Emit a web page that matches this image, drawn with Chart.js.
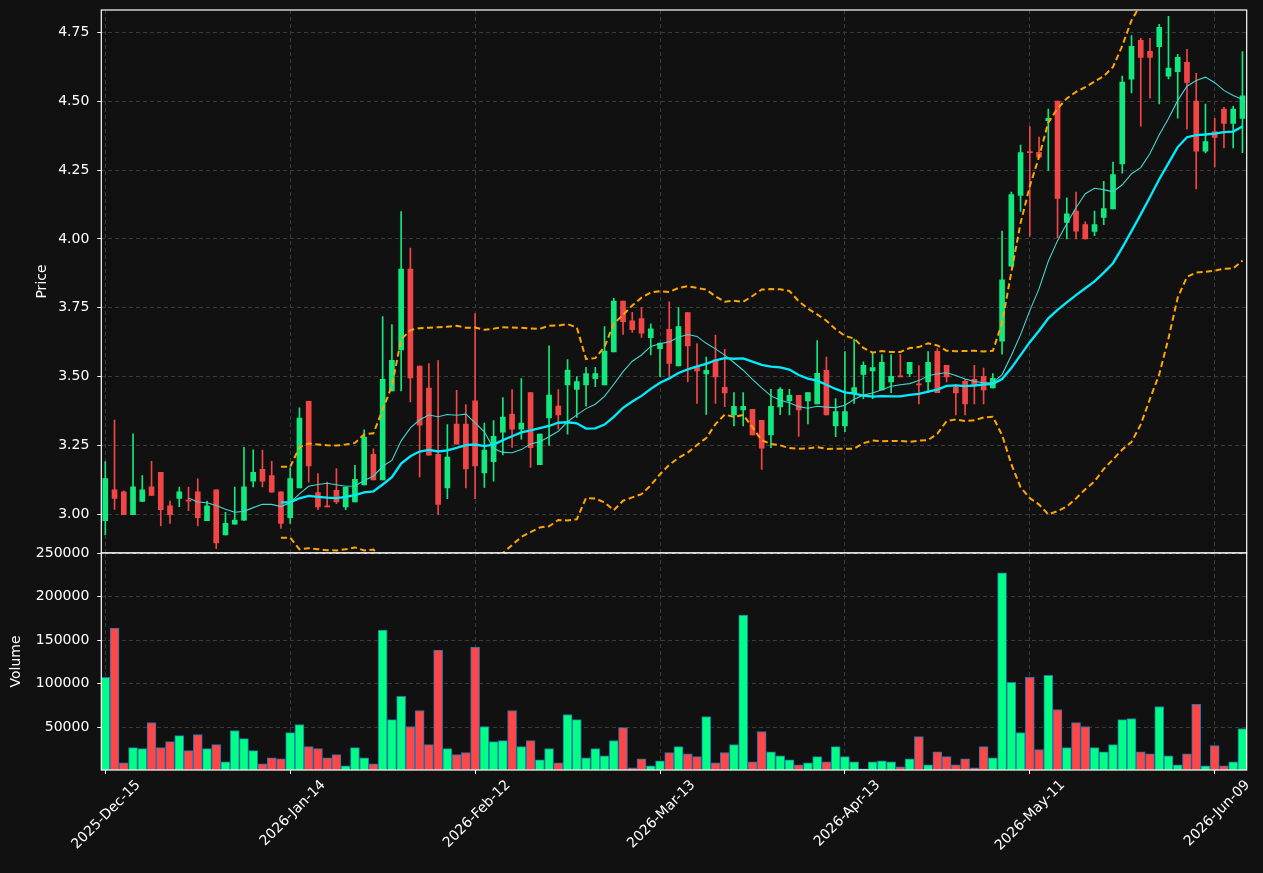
<!DOCTYPE html>
<html>
<head>
<meta charset="utf-8">
<script src="https://cdn.jsdelivr.net/npm/chart.js@4.4.1/dist/chart.umd.min.js"></script>
<style>
  html, body { margin: 0; padding: 0; background: #111111; }
  #wrap { position: relative; width: 1263px; height: 873px; overflow: hidden; }
  #priceChart { position: absolute; left: 0; top: 0; }
  #volumeChart { position: absolute; left: 0; top: 540px; }
</style>
</head>
<body>
<div id="wrap">
  <canvas id="priceChart" width="1263" height="560"></canvas>
  <canvas id="volumeChart" width="1263" height="333"></canvas>
</div>
<script>
// ---- data (one entry per trading day) ----
const opens = [2.977,3.089,3.082,2.999,3.047,3.100,3.152,3.031,3.058,3.050,
  3.082,2.977,3.089,2.925,2.964,2.979,3.120,3.163,3.141,3.082,
  2.988,3.096,3.410,3.079,3.031,3.087,3.027,3.045,3.107,3.218,
  3.125,3.448,3.597,3.890,3.538,3.458,3.218,3.096,3.328,3.328,
  3.412,3.150,3.191,3.298,3.364,3.309,3.442,3.180,3.350,3.393,
  3.470,3.453,3.470,3.492,3.470,3.590,3.774,3.702,3.711,3.641,
  3.601,3.672,3.539,3.732,3.536,3.510,3.561,3.461,3.361,3.379,
  3.381,3.341,3.288,3.390,3.412,3.432,3.412,3.401,3.523,3.321,
  3.321,3.441,3.508,3.521,3.452,3.481,3.501,3.511,3.472,3.481,
  3.592,3.541,3.461,3.483,3.490,3.501,3.459,3.629,3.901,4.158,
  4.316,4.314,4.429,4.500,4.060,4.101,4.052,4.027,4.078,4.109,
  4.272,4.580,4.721,4.681,4.698,4.591,4.607,4.641,4.500,4.318,
  4.390,4.471,4.419,4.437];
const highs = [3.191,3.342,3.085,3.292,3.141,3.192,3.152,3.048,3.099,3.099,
  3.129,3.048,3.089,3.007,3.099,3.243,3.234,3.233,3.192,3.082,
  3.169,3.387,3.410,3.148,3.117,3.166,3.098,3.178,3.307,3.238,
  3.718,3.689,4.099,3.967,3.538,3.547,3.558,3.326,3.450,3.398,
  3.729,3.331,3.340,3.424,3.453,3.493,3.442,3.291,3.612,3.453,
  3.562,3.500,3.534,3.534,3.682,3.784,3.774,3.733,3.751,3.692,
  3.622,3.771,3.751,3.732,3.620,3.571,3.651,3.599,3.442,3.442,
  3.381,3.341,3.454,3.460,3.454,3.432,3.442,3.631,3.571,3.420,
  3.591,3.636,3.554,3.587,3.580,3.580,3.580,3.552,3.540,3.591,
  3.602,3.541,3.471,3.490,3.541,3.531,3.511,4.028,4.170,4.341,
  4.408,4.370,4.471,4.500,4.149,4.170,4.062,4.101,4.209,4.279,
  4.591,4.738,4.728,4.728,4.779,4.808,4.670,4.688,4.601,4.489,
  4.438,4.478,4.481,4.680];
const lows = [2.926,3.018,2.999,2.999,3.047,3.069,2.958,2.967,3.028,3.013,
  2.958,2.977,2.875,2.925,2.964,2.977,3.099,3.099,3.080,2.949,
  2.967,3.096,3.117,3.017,3.027,3.039,3.017,3.045,3.107,3.125,
  3.125,3.448,3.448,3.408,3.136,3.215,3.000,3.057,3.255,3.096,
  3.057,3.098,3.120,3.216,3.243,3.273,3.170,3.180,3.250,3.309,
  3.291,3.352,3.393,3.463,3.470,3.590,3.653,3.660,3.642,3.579,
  3.500,3.500,3.539,3.481,3.403,3.363,3.403,3.391,3.321,3.321,
  3.288,3.163,3.242,3.362,3.361,3.283,3.328,3.401,3.361,3.282,
  3.300,3.403,3.420,3.420,3.452,3.442,3.499,3.500,3.401,3.442,
  3.442,3.481,3.361,3.361,3.401,3.401,3.459,3.581,3.901,4.100,
  4.010,4.297,4.249,4.004,4.000,4.000,4.000,4.012,4.052,4.109,
  4.239,4.530,4.409,4.511,4.490,4.581,4.438,4.398,4.181,4.312,
  4.261,4.330,4.330,4.313];
const closes = [3.130,3.058,2.999,3.100,3.089,3.069,3.017,2.999,3.082,3.048,
  2.988,3.031,2.896,2.967,2.979,3.100,3.152,3.120,3.080,2.967,
  3.130,3.349,3.176,3.027,3.027,3.045,3.098,3.127,3.280,3.125,
  3.490,3.559,3.890,3.495,3.324,3.215,3.036,3.208,3.255,3.165,
  3.176,3.233,3.283,3.353,3.309,3.331,3.242,3.291,3.433,3.361,
  3.524,3.482,3.511,3.511,3.593,3.774,3.699,3.670,3.658,3.673,
  3.622,3.548,3.682,3.611,3.521,3.523,3.499,3.441,3.392,3.392,
  3.288,3.240,3.392,3.454,3.432,3.379,3.442,3.512,3.361,3.373,
  3.373,3.460,3.541,3.533,3.552,3.501,3.499,3.552,3.470,3.552,
  3.442,3.499,3.441,3.401,3.470,3.452,3.494,3.851,4.161,4.313,
  4.313,4.297,4.438,4.147,4.091,4.028,4.000,4.052,4.110,4.233,
  4.569,4.699,4.659,4.659,4.768,4.620,4.659,4.568,4.318,4.353,
  4.368,4.419,4.471,4.519];
const volumes = [107300,163800,9200,26500,25400,55400,26500,33500,40400,23100,
  41500,25400,30000,10400,46200,36900,23100,8100,15000,13800,
  43800,53100,27700,25400,15000,18500,5800,26500,15000,8100,
  161500,58800,85400,50800,69200,30000,138500,25400,18500,20800,
  141900,50800,33500,34600,69200,27700,34600,12700,25400,9200,
  64600,58800,15000,25400,17300,34600,49600,3500,13800,5800,
  11500,20800,27700,19600,16200,62300,9200,20800,30000,178800,
  10400,45000,21900,17300,12700,6900,9200,16200,10400,27700,
  16200,10400,2300,10400,11500,10400,4600,13800,39200,6900,
  21900,16200,6900,13800,3500,27700,15000,227300,101500,43800,
  107300,24200,109600,70400,26500,55400,50800,26500,21900,30000,
  58800,60000,21900,19600,73800,17300,6900,19600,76200,5800,
  28800,5800,10400,48500];

const tickIndex = [0, 20, 40, 60, 80, 100, 120];
const tickLabels = ["2025-Dec-15", "2026-Jan-14", "2026-Feb-12", "2026-Mar-13",
  "2026-Apr-13", "2026-May-11", "2026-Jun-09"];
const priceTicks = [3.00, 3.25, 3.50, 3.75, 4.00, 4.25, 4.50, 4.75];
const volumeTicks = [50000, 100000, 150000, 200000, 250000];

// ---- indicators computed from the closes ----
function sma(arr, n) {
  return arr.map((v, i) => {
    if (i < n - 1) return null;
    let s = 0;
    for (let k = i - n + 1; k <= i; k++) s += arr[k];
    return s / n;
  });
}
function band(arr, n, mult) {
  const m = sma(arr, n);
  return arr.map((v, i) => {
    if (m[i] === null) return null;
    let q = 0;
    for (let k = i - n + 1; k <= i; k++) q += (arr[k] - m[i]) ** 2;
    return m[i] + mult * Math.sqrt(q / n);
  });
}
const ma10 = sma(closes, 10);
const ma20 = sma(closes, 20);
const bbUp = band(closes, 20, 2);
const bbDn = band(closes, 20, -2);

const UP = "#12e87d", DOWN = "#f24646";
const VOL_UP = "#00ff84", VOL_DOWN = "#ff4747";
const isUp = closes.map((c, i) => c >= opens[i]);

const pts = (arr) => arr.map((v, i) => ({ x: i, y: v }));

Chart.defaults.font.family = "'DejaVu Sans', sans-serif";
Chart.defaults.font.size = 14;
Chart.defaults.color = "#ffffff";

const X_MIN = -0.433, X_MAX = 123.46;
const GRID = "#3a3a3a";

// white box around each panel
const frame = {
  id: "frame",
  afterDraw(chart) {
    const a = chart.chartArea, ctx = chart.ctx;
    ctx.save();
    ctx.strokeStyle = "#ffffff";
    ctx.lineWidth = 1.2;
    ctx.strokeRect(a.left, a.top, a.right - a.left, a.bottom - a.top);
    ctx.restore();
  }
};

// drop the label overhang padding so the plot box sits where we want it
function noPad(s) {
  s.paddingTop = 0; s.paddingBottom = 0; s.paddingLeft = 0; s.paddingRight = 0;
}

// ---- price panel ----
new Chart(document.getElementById("priceChart"), {
  type: "bar",
  data: {
    datasets: [
      { type: "line", label: "MA10", data: pts(ma10), borderColor: "#45d6cf", borderWidth: 1.1,
        pointRadius: 0, tension: 0, clip: 0, order: 0 },
      { type: "line", label: "MA20", data: pts(ma20), borderColor: "#00ecff", borderWidth: 2.3,
        pointRadius: 0, tension: 0, clip: 0, order: 0 },
      { type: "line", label: "BB up", data: pts(bbUp), borderColor: "#ffa500", borderWidth: 2,
        borderDash: [6, 3.5], pointRadius: 0, tension: 0, clip: 0, order: 0 },
      { type: "line", label: "BB down", data: pts(bbDn), borderColor: "#ffa500", borderWidth: 2,
        borderDash: [6, 3.5], pointRadius: 0, tension: 0, clip: 0, order: 0 },
      { label: "body", data: closes.map((c, i) => ({ x: i, y: [opens[i], c] })),
        backgroundColor: isUp.map(u => u ? UP : DOWN), borderWidth: 0,
        barThickness: 5, minBarLength: 1, grouped: false, order: 1 },
      { label: "wick", data: lows.map((l, i) => ({ x: i, y: [l, highs[i]] })),
        backgroundColor: isUp.map(u => u ? UP : DOWN), borderWidth: 0,
        barThickness: 1, grouped: false, order: 2 }
    ]
  },
  options: {
    responsive: false,
    animation: false,
    devicePixelRatio: 1,
    layout: { padding: { left: 30, top: 10, right: 16.3, bottom: 7 } },
    plugins: { legend: { display: false }, tooltip: { enabled: false } },
    scales: {
      x: {
        type: "linear", min: X_MIN, max: X_MAX, offset: false,
        afterBuildTicks: (s) => { s.ticks = tickIndex.map(v => ({ value: v })); },
        afterFit: (s) => { s.height = 0; noPad(s); },
        ticks: { display: false },
        grid: { color: GRID, drawTicks: false, offset: false },
        border: { display: false, dash: [4, 3] }
      },
      y: {
        min: 2.8595, max: 4.831,
        afterBuildTicks: (s) => { s.ticks = priceTicks.map(v => ({ value: v })); },
        afterFit: (s) => { s.width = 71.3; noPad(s); },
        ticks: { color: "#ffffff", padding: 8, callback: (v) => Number(v).toFixed(2) },
        grid: { color: GRID, tickColor: "#ffffff", tickLength: 4, tickBorderDash: [] },
        border: { display: false, dash: [4, 3] },
        title: { display: true, text: "Price", color: "#ffffff" }
      }
    }
  },
  plugins: [frame]
});

// ---- volume panel ----
new Chart(document.getElementById("volumeChart"), {
  type: "bar",
  data: {
    datasets: [
      { label: "Volume", data: volumes.map((v, i) => ({ x: i, y: v })),
        backgroundColor: isUp.map(u => u ? VOL_UP : VOL_DOWN),
        borderColor: "#1f77b4", borderWidth: 1, barThickness: 9, grouped: false }
    ]
  },
  options: {
    responsive: false,
    animation: false,
    devicePixelRatio: 1,
    layout: { padding: { left: 4.3, top: 13, right: 16.3, bottom: 0 } },
    plugins: { legend: { display: false }, tooltip: { enabled: false } },
    scales: {
      x: {
        type: "linear", min: X_MIN, max: X_MAX, offset: false,
        afterBuildTicks: (s) => { s.ticks = tickIndex.map(v => ({ value: v })); },
        afterFit: (s) => { s.height = 103; noPad(s); },
        ticks: {
          color: "#ffffff", autoSkip: false, maxRotation: 45, minRotation: 45,
          padding: 3, labelOffset: 33,
          callback: (v) => tickLabels[tickIndex.indexOf(v)] || ""
        },
        grid: { color: GRID, tickColor: "#ffffff", tickLength: 4, tickBorderDash: [], offset: false },
        border: { display: false, dash: [4, 3] }
      },
      y: {
        min: 900, max: 250000,
        afterBuildTicks: (s) => { s.ticks = volumeTicks.map(v => ({ value: v })); },
        afterFit: (s) => { s.width = 97; noPad(s); },
        ticks: { color: "#ffffff", padding: 8, callback: (v) => String(v) },
        grid: { color: GRID, tickColor: "#ffffff", tickLength: 4, tickBorderDash: [] },
        border: { display: false, dash: [4, 3] },
        title: { display: true, text: "Volume", color: "#ffffff" }
      }
    }
  },
  plugins: [frame]
});
</script>
</body>
</html>
